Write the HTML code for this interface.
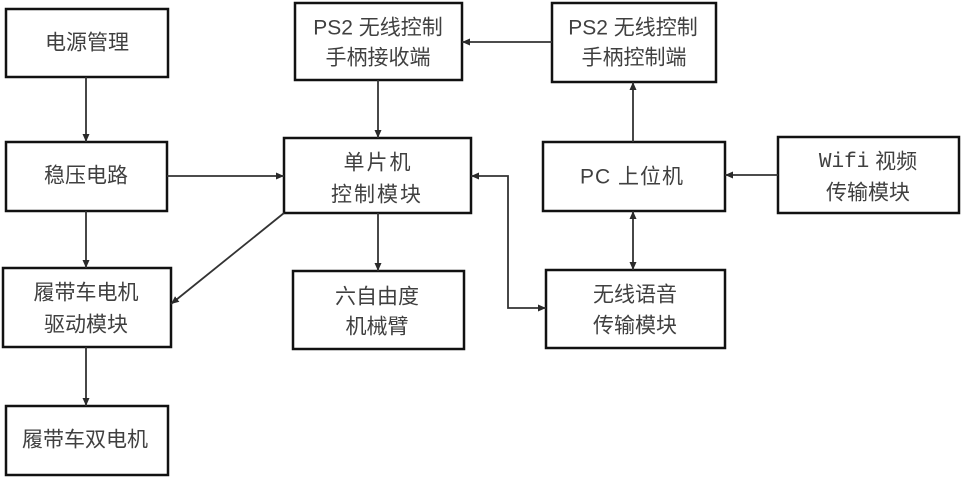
<!DOCTYPE html>
<html>
<head>
<meta charset="utf-8">
<style>
  html, body { margin:0; padding:0; background:#fff; }
  svg { display:block; }
  text { font-family: "Liberation Sans", "Noto Sans CJK SC", sans-serif; font-size:21px; fill:#404040; }
  .mono { font-family: "Liberation Mono", "Noto Sans CJK SC", monospace; }
</style>
</head>
<body>
<svg width="962" height="478" viewBox="0 0 962 478" xmlns="http://www.w3.org/2000/svg">
  <defs>
    <marker id="ah" markerUnits="userSpaceOnUse" markerWidth="10" markerHeight="10" refX="8" refY="4" orient="auto">
      <path d="M0,0.5 L8,4 L0,7.5 Z" fill="#2a2a2a"/>
    </marker>
    <marker id="as" markerUnits="userSpaceOnUse" markerWidth="10" markerHeight="10" refX="0" refY="4" orient="auto">
      <path d="M8,0.5 L0,4 L8,7.5 Z" fill="#2a2a2a"/>
    </marker>
  </defs>

  <!-- boxes -->
  <g fill="none" stroke="#111" stroke-width="2.5">
    <rect x="6" y="9" width="162" height="68"/>
    <rect x="6" y="142" width="161" height="69"/>
    <rect x="3" y="268" width="168" height="79"/>
    <rect x="6" y="406" width="162" height="69"/>
    <rect x="295" y="3" width="167" height="77"/>
    <rect x="284" y="138" width="187" height="75"/>
    <rect x="293" y="271" width="171" height="78"/>
    <rect x="552" y="3" width="164" height="79"/>
    <rect x="543" y="142" width="182" height="69"/>
    <rect x="778" y="137" width="181" height="76"/>
    <rect x="546" y="270" width="179" height="78"/>
  </g>

  <!-- connectors -->
  <g fill="none" stroke="#333" stroke-width="1.8">
    <line x1="86" y1="77" x2="86" y2="142" marker-end="url(#ah)"/>
    <line x1="167" y1="176" x2="284" y2="176" marker-end="url(#ah)"/>
    <line x1="86" y1="211" x2="86" y2="268" marker-end="url(#ah)"/>
    <line x1="284" y1="213" x2="171" y2="304" marker-end="url(#ah)"/>
    <line x1="86" y1="347" x2="86" y2="406" marker-end="url(#ah)"/>
    <line x1="378" y1="80" x2="378" y2="138" marker-end="url(#ah)"/>
    <line x1="378" y1="213" x2="378" y2="271" marker-end="url(#ah)"/>
    <line x1="552" y1="42" x2="462" y2="42" marker-end="url(#ah)"/>
    <line x1="633" y1="142" x2="633" y2="82" marker-end="url(#ah)"/>
    <line x1="778" y1="175" x2="725" y2="175" marker-end="url(#ah)"/>
    <line x1="633" y1="211" x2="633" y2="270" marker-start="url(#as)" marker-end="url(#ah)"/>
    <polyline points="471,176 508,176 508,308 546,308" marker-start="url(#as)" marker-end="url(#ah)"/>
  </g>

  <!-- labels -->
  <g text-anchor="middle" dominant-baseline="central">
    <text x="87" y="43">电源管理</text>
    <text x="86" y="176">稳压电路</text>
    <text x="86" y="293">履带车电机</text>
    <text x="86" y="325">驱动模块</text>
    <text x="85" y="440">履带车双电机</text>

    <text x="378" y="28">PS2 无线控制</text>
    <text x="378" y="58">手柄接收端</text>

    <text x="378" y="163" letter-spacing="2">单片机</text>
    <text x="377" y="195" letter-spacing="2">控制模块</text>

    <text x="377" y="297">六自由度</text>
    <text x="377" y="327">机械臂</text>

    <text x="633" y="28">PS2 无线控制</text>
    <text x="634" y="58">手柄控制端</text>

    <text x="632" y="177" letter-spacing="1">PC 上位机</text>

    <text x="868" y="162"><tspan class="mono">Wifi</tspan> 视频</text>
    <text x="868" y="193">传输模块</text>

    <text x="635" y="295">无线语音</text>
    <text x="635" y="326">传输模块</text>
  </g>
</svg>
</body>
</html>
